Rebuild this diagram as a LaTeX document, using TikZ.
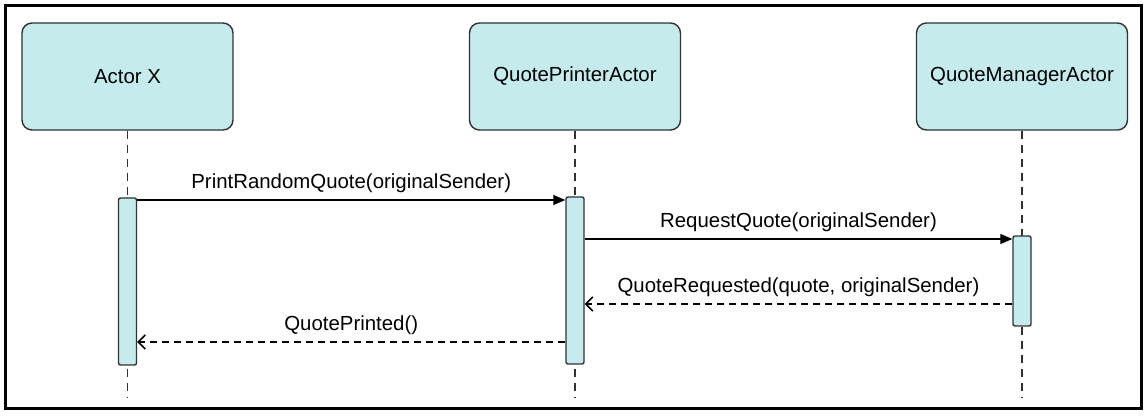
\documentclass[tikz,border=0pt]{standalone}
\usepackage{fontspec}
\setmainfont{Liberation Sans}
\usetikzlibrary{arrows.meta}
\definecolor{actfill}{RGB}{197,235,236}
\definecolor{actline}{RGB}{50,50,50}
\begin{document}
\begin{tikzpicture}[x=1pt,y=-1pt,
  font=\fontsize{20.4}{24}\selectfont,
  actorbox/.style={draw=actline,line width=1.4pt,fill=actfill,rounded corners=10pt,minimum width=211pt,minimum height=107pt,inner sep=0pt},
  actbar/.style={draw=actline,line width=1.4pt,fill=actfill,rounded corners=2pt,minimum width=18pt,inner sep=0pt},
  lifeline/.style={draw=actline,line width=1.2pt,dash pattern=on 8pt off 6pt},
  callmsg/.style={draw=black,line width=1.2pt,-{Triangle[length=12pt,width=10pt]}},
  retmsg/.style={draw=black,line width=1.2pt,dash pattern=on 7pt off 5pt,-{Straight Barb[length=7pt,width=14pt,line width=1.6pt]}},
  msglabel/.style={text=black,inner sep=0pt}
]
\useasboundingbox (0,0) rectangle (1146,419);
\draw[line width=3pt,black] (5,6) rectangle (1141,409);

% actor boxes
\node[actorbox] (ax) at (127.5,76.5) {Actor X};
\node[actorbox] (qp) at (575,76.5) {QuotePrinterActor};
\node[actorbox] (qm) at (1022,76.5) {QuoteManagerActor};

% lifeline ends
\coordinate (axend) at (127.5,397);
\coordinate (qpend) at (575,397);
\coordinate (qmend) at (1022,397);
\draw[lifeline] (ax.south) -- (axend);
\draw[lifeline] (qp.south) -- (qpend);
\draw[lifeline] (qm.south) -- (qmend);

% activation bars
\node[actbar,minimum height=167pt] (axa) at (127.5,281.5) {};
\node[actbar,minimum height=167pt] (qpa) at (575,280.5) {};
\node[actbar,minimum height=90pt] (qma) at (1022,281) {};

% messages
\draw[callmsg] (axa.east |- 0,200) -- (qpa.west |- 0,200)
  node[msglabel,midway,above=7pt] (m1) {PrintRandomQuote(originalSender)};
\draw[callmsg] (qpa.east |- 0,239) -- (qma.west |- 0,239)
  node[msglabel,midway,above=7pt] (m2) {RequestQuote(originalSender)};
\draw[retmsg] (qma.west |- 0,304) -- (qpa.east |- 0,304)
  node[msglabel,midway,above=7pt] (m3) {QuoteRequested(quote, originalSender)};
\draw[retmsg] (qpa.west |- 0,342) -- (axa.east |- 0,342)
  node[msglabel,midway,above=7pt] (m4) {QuotePrinted()};
\end{tikzpicture}
\end{document}
